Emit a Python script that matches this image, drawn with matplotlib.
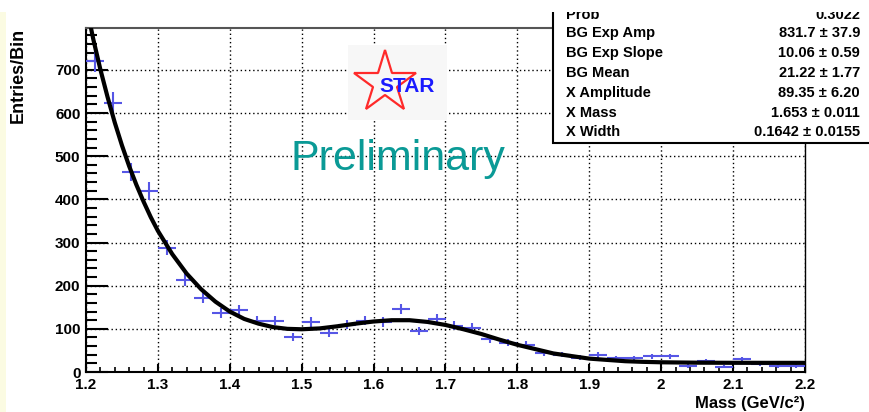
import numpy as np
import matplotlib.pyplot as plt
from matplotlib.patches import Rectangle
from matplotlib.lines import Line2D
from matplotlib.ticker import MultipleLocator

plt.rcParams['font.family'] = ['Liberation Sans', 'DejaVu Sans']

# histogram: 40 bins of 0.025 from 1.2 to 2.2
bin_edges = np.linspace(1.2, 2.2, 41)
counts = [721, 623, 463, 419, 288, 214, 172, 137, 144, 119,
          119, 81, 116, 91, 109, 119, 116, 146, 95, 123,
          107, 103, 76, 68, 63, 44, 40, 33, 39, 32,
          32, 36, 36, 14, 25, 12, 30, 19, 14, 14]

# fit curve
fit_x = [1.20, 1.21, 1.22, 1.23, 1.24, 1.25, 1.26, 1.27, 1.28, 1.29, 1.30,
         1.32, 1.34, 1.36, 1.38, 1.40, 1.42, 1.44, 1.46, 1.48, 1.50,
         1.525, 1.55, 1.575, 1.60, 1.625, 1.65, 1.675, 1.70, 1.725, 1.75,
         1.775, 1.80, 1.825, 1.85, 1.875, 1.90, 1.925, 1.95, 1.975, 2.00,
         2.05, 2.10, 2.15, 2.20]
fit_y = [853, 772, 701, 637, 578, 525, 477, 434, 395, 359, 327,
         273, 228, 192, 163, 140, 123, 112, 104, 100, 99,
         101, 106, 112, 117, 120, 120, 116, 109, 99, 88,
         75, 63, 53, 43, 37, 31, 28, 25, 23.5, 22.5,
         21.6, 21.3, 21.2, 21.2]

x_ticks = [1.2, 1.3, 1.4, 1.5, 1.6, 1.7, 1.8, 1.9, 2.0, 2.1, 2.2]
x_labels = ['1.2', '1.3', '1.4', '1.5', '1.6', '1.7', '1.8', '1.9', '2', '2.1', '2.2']
y_ticks = [0, 100, 200, 300, 400, 500, 600, 700]

stat_names = ['Prob', 'BG Exp Amp', 'BG Exp Slope', 'BG Mean', 'X Amplitude', 'X Mass', 'X Width']
stat_values = ['0.3022', '831.7 \u00b1 37.9', '10.06 \u00b1 0.59', '21.22 \u00b1 1.77',
               '89.35 \u00b1 6.20', '1.653 \u00b1 0.011', '0.1642 \u00b1 0.0155']

W, H = 869, 412
fig = plt.figure(figsize=(W / 100, H / 100), dpi=100)
ax = fig.add_axes([86 / W, 40 / H, (805 - 86) / W, (372 - 28) / H])

centers = (bin_edges[:-1] + bin_edges[1:]) / 2
half = (bin_edges[1:] - bin_edges[:-1]) / 2
counts = np.array(counts)
ax.errorbar(centers, counts, xerr=half, yerr=np.sqrt(counts), fmt='none',
            ecolor='#5656e6', elinewidth=1.5, capsize=0, zorder=3)
ax.plot(fit_x, fit_y, color='black', lw=3, zorder=4)

ax.set_xlim(1.2, 2.2)
ax.set_ylim(0, 797)
ax.set_xticks(x_ticks)
ax.set_xticklabels(x_labels)
ax.set_yticks(y_ticks)
ax.xaxis.set_minor_locator(MultipleLocator(0.02))
ax.yaxis.set_minor_locator(MultipleLocator(20))
ax.tick_params(which='both', direction='in', top=False, right=False, colors='black')
ax.tick_params(axis='y', which='major', length=16, width=1.5, pad=4, labelsize=11)
ax.tick_params(axis='y', which='minor', length=8, width=1.5)
ax.tick_params(axis='x', which='major', length=6, width=1.5, pad=4, labelsize=11)
ax.tick_params(axis='x', which='minor', length=3.5, width=1.2)
for lbl in ax.get_xticklabels() + ax.get_yticklabels():
    lbl.set_fontweight('bold')

ax.grid(True, which='major', color='black', linestyle=(0, (1, 2)), lw=1)
ax.set_axisbelow(True)

ax.spines['left'].set_linewidth(1.5)
ax.spines['bottom'].set_linewidth(1.5)
ax.spines['top'].set_linewidth(1.5)
ax.spines['top'].set_color('#555555')
ax.spines['right'].set_linewidth(1)

fig.text(18.5 / W, 1 - 75 / H, 'Entries/Bin', rotation=90, ha='center', va='center',
         fontsize=13, fontweight='bold')
fig.text(805 / W, 1 - 408 / H, 'Mass (GeV/c\u00b2)', ha='right', va='baseline',
         fontsize=12, fontweight='bold')

# STAR logo and Preliminary tag
fig.add_artist(Rectangle((348 / W, 1 - 120 / H), 99 / W, 75 / H, transform=fig.transFigure,
                         facecolor='#f7f7f7', edgecolor='none', zorder=5))
fig.add_artist(Line2D([385 / W], [1 - 83 / H], marker='*', markersize=47,
                      markerfacecolor='none', markeredgecolor='#ff2a2a', markeredgewidth=1.6,
                      transform=fig.transFigure, zorder=6))
fig.text(407 / W, 1 - 92 / H, 'STAR', ha='center', va='baseline', fontsize=15,
         fontweight='bold', color='#1a1aff', zorder=7)
fig.text(398 / W, 1 - 170 / H, 'Preliminary', ha='center', va='baseline', fontsize=31,
         color='#0a9a96', zorder=7)

# stats box
fig.add_artist(Rectangle((553 / W, 1 - 143 / H), 0.5, 143 / H + 0.1, transform=fig.transFigure,
                         facecolor='white', edgecolor='black', lw=1.5, zorder=10))
baselines = [19, 37, 57, 77, 97, 117, 136]
for name, val, yb in zip(stat_names, stat_values, baselines):
    fig.text(566 / W, 1 - yb / H, name, ha='left', va='baseline', fontsize=10.5,
             fontweight='bold', zorder=11)
    fig.text(860 / W, 1 - yb / H, val, ha='right', va='baseline', fontsize=10.5,
             fontweight='bold', zorder=11)

# slide edges
fig.add_artist(Rectangle((0, 0), 6 / W, 1 - 12 / H, transform=fig.transFigure,
                         facecolor='#fbfbe2', edgecolor='none', zorder=1))
fig.add_artist(Rectangle((0, 1 - 12 / H), 1, 12 / H, transform=fig.transFigure,
                         facecolor='white', edgecolor='none', zorder=20))

plt.savefig('out.png', dpi=100)
plt.close()
